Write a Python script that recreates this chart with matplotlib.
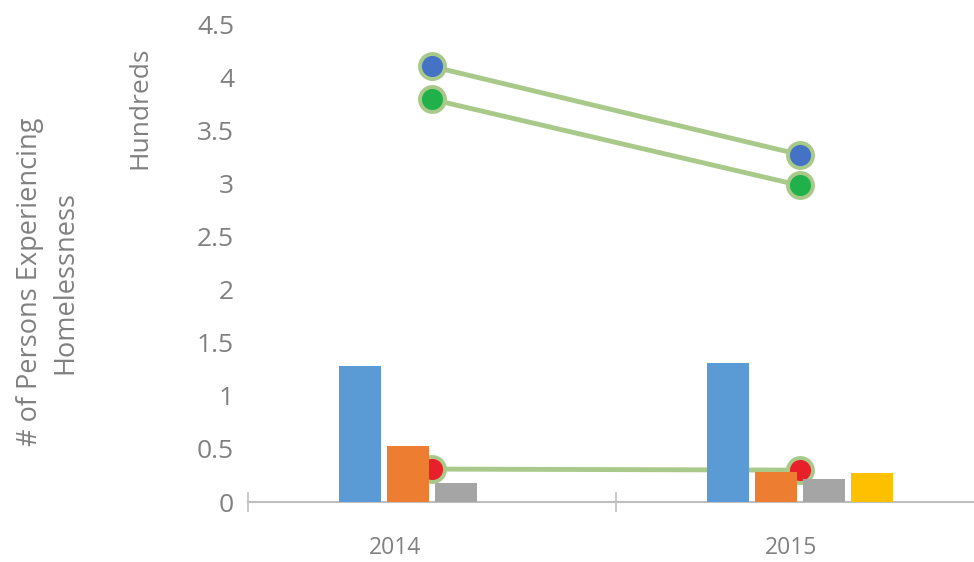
import matplotlib.pyplot as plt
import numpy as np

plt.rcParams['font.family'] = ['Open Sans', 'DejaVu Sans']

years = ['2014', '2015']

# bars (hundreds)
bar_blue = [1.28, 1.31]
bar_orange = [0.53, 0.28]
bar_gray = [0.18, 0.22]
bar_yellow = [0.0, 0.27]

# lines (hundreds)
line_blue = [4.10, 3.27]
line_green = [3.79, 2.98]
line_red = [0.31, 0.30]

bar_colours = ['#5B9BD5', '#ED7D31', '#A5A5A5', '#FFC000']
marker_colours = ['#4472C4', '#21B14B', '#E8202A']
line_colour = '#A9C98A'
text_colour = '#808080'

fig = plt.figure(figsize=(9.74, 5.62), dpi=100)
ax = fig.add_axes([248 / 974, 60 / 562, 726 / 974, 478 / 562])

x = np.arange(len(years))
width = 0.115
step = 0.13

for i, vals in enumerate([bar_blue, bar_orange, bar_gray, bar_yellow]):
    ax.bar(x + (i - 1.5) * step, vals, width=width, color=bar_colours[i], zorder=3)

for vals, mc in zip([line_blue, line_green, line_red], marker_colours):
    ax.plot(x, vals, color=line_colour, linewidth=3.5, marker='o', markersize=18,
            markerfacecolor=mc, markeredgecolor=line_colour, markeredgewidth=2.8, zorder=2)

ax.set_yticks(np.arange(0, 4.51, 0.5))
ax.set_yticklabels(['0', '0.5', '1', '1.5', '2', '2.5', '3', '3.5', '4', '4.5'])
ax.tick_params(axis='y', length=0, pad=10, labelsize=19, labelcolor=text_colour)

# category boundary ticks on the x axis
ax.set_xticks([-0.5, 0.5, 1.5])
ax.set_xticklabels([])
ax.tick_params(axis='x', direction='inout', length=14, width=1.2, color='#BFBFBF')
ax.set_xlim(-0.5, 1.473)
ax.set_ylim(0, 4.5)
for xi, lab in zip([-0.1, 0.975], years):
    ax.text(xi, -0.49, lab, ha='center', va='baseline', fontsize=16.5, color=text_colour)

for s in ['top', 'right', 'left']:
    ax.spines[s].set_visible(False)
ax.spines['bottom'].set_color('#BFBFBF')
ax.spines['bottom'].set_linewidth(1.5)

fig.text(140 / 974, 1 - 108 / 562, 'Hundreds', rotation=90, ha='center', va='center',
         fontsize=19, color=text_colour)
fig.text(48 / 974, 1 - 282 / 562, '# of Persons Experiencing\nHomelessness', rotation=90,
         ha='center', va='center', fontsize=19.5, color=text_colour, multialignment='center',
         linespacing=1.35)

plt.savefig('out.png', dpi=100)
